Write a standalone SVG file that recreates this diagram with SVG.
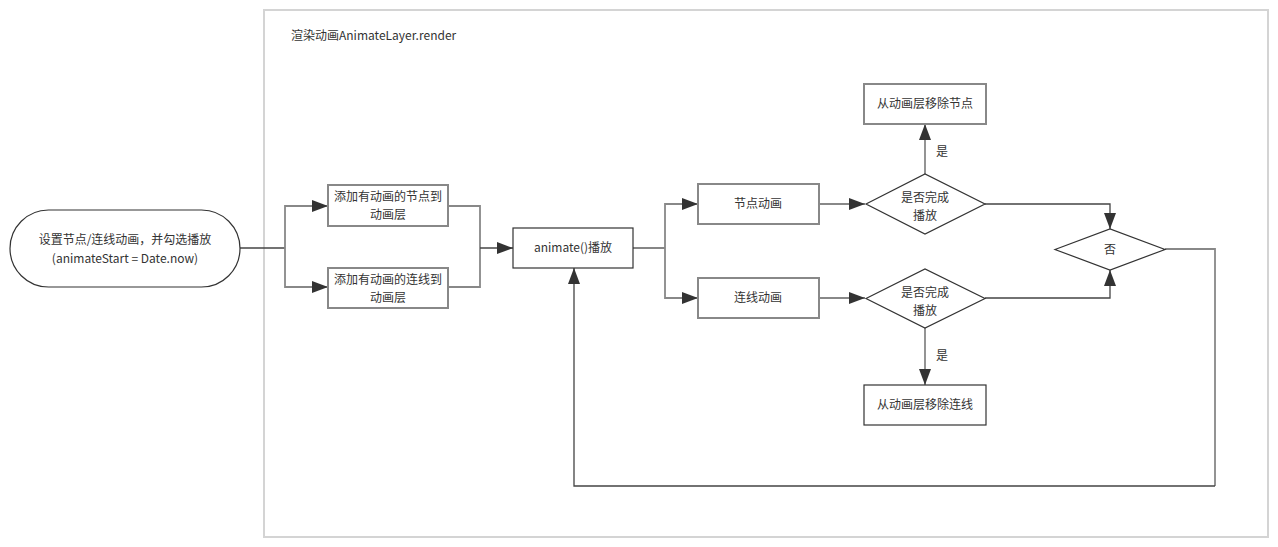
<svg xmlns="http://www.w3.org/2000/svg" width="1278" height="547" viewBox="0 0 1278 547">
<defs>
<marker id="ah" markerWidth="16" markerHeight="12" refX="16" refY="6" orient="auto" markerUnits="userSpaceOnUse">
<path d="M0,0 L16,6 L0,12 Z" fill="#333"/>
</marker>
<style>
text{font-family:"Noto Sans CJK SC","Liberation Sans",sans-serif;font-size:12px;fill:#333;text-anchor:middle}
.box{fill:#fff;stroke:#888;stroke-width:2}
.dbox{fill:#fff;stroke:#333;stroke-width:1.2}
.dia{fill:#fff;stroke:#333;stroke-width:1.2}
.c{fill:none;stroke:#444;stroke-width:1.3}
.cg{fill:none;stroke:#888;stroke-width:1.8}
</style>
</defs>
<rect width="1278" height="547" fill="#fff"/>
<g id="container">
<rect x="264" y="10" width="1004" height="527" fill="#fff" stroke="#d4d4d4" stroke-width="2"/>
<text x="291" y="40" style="text-anchor:start">渲染动画AnimateLayer.render</text>
</g>
<g id="connectors">
<path class="c" d="M240,248 H285"/>
<path class="cg" d="M285,248 V206 H328" marker-end="url(#ah)"/>
<path class="cg" d="M285,248 V287 H328" marker-end="url(#ah)"/>
<path class="cg" d="M448,206 H480 V287 H448"/>
<path class="c" d="M480,248 H513" marker-end="url(#ah)"/>
<path class="c" d="M633,248 H665"/>
<path class="cg" d="M665,248 V204 H698" marker-end="url(#ah)"/>
<path class="cg" d="M665,248 V298 H698" marker-end="url(#ah)"/>
<path class="cg" d="M819,204 H865" marker-end="url(#ah)"/>
<path class="cg" d="M819,298 H865" marker-end="url(#ah)"/>
<path class="cg" d="M925,174 V124" marker-end="url(#ah)"/>
<path class="cg" d="M925,328 V385" marker-end="url(#ah)"/>
<path class="c" d="M985,204 H1110 V229" marker-end="url(#ah)"/>
<path class="c" d="M985,298 H1110 V270" marker-end="url(#ah)"/>
<path class="cg" d="M1165,249 H1215 V486"/>
<path class="c" d="M1215,486 H574 V268" marker-end="url(#ah)"/>
<text x="942" y="156">是</text>
<text x="942" y="360">是</text>
</g>
<g id="start">
<rect x="10" y="210" width="230" height="77" rx="38.5" ry="38.5" class="dbox"/>
<text x="125" y="244">设置节点/连线动画，并勾选播放</text>
<text x="125" y="263">(animateStart = Date.now)</text>
</g>
<g id="addNode">
<rect x="328" y="185" width="120" height="41" class="box"/>
<text x="388" y="201">添加有动画的节点到</text>
<text x="388" y="219">动画层</text>
</g>
<g id="addLink">
<rect x="328" y="268" width="120" height="40" class="box"/>
<text x="388" y="284">添加有动画的连线到</text>
<text x="388" y="302">动画层</text>
</g>
<g id="animate">
<rect x="513" y="228" width="120" height="40" class="dbox"/>
<text x="573" y="252">animate()播放</text>
</g>
<g id="nodeAnim">
<rect x="698" y="184" width="121" height="40" class="box"/>
<text x="758" y="208">节点动画</text>
</g>
<g id="linkAnim">
<rect x="698" y="278" width="121" height="40" class="box"/>
<text x="758" y="302">连线动画</text>
</g>
<g id="check1">
<path d="M866,204 L925,174 L985,204 L925,234 Z" class="dia"/>
<text x="925" y="202">是否完成</text>
<text x="925" y="220">播放</text>
</g>
<g id="check2">
<path d="M866,298.5 L925,269 L985,298.5 L925,328 Z" class="dia"/>
<text x="925" y="297">是否完成</text>
<text x="925" y="315">播放</text>
</g>
<g id="removeNode">
<rect x="864" y="84" width="122" height="40" class="box"/>
<text x="925" y="108">从动画层移除节点</text>
</g>
<g id="removeLink">
<rect x="864" y="385" width="122" height="40" class="dbox"/>
<text x="925" y="409">从动画层移除连线</text>
</g>
<g id="no">
<path d="M1055,249.5 L1110,229 L1165,249.5 L1110,270 Z" class="dia"/>
<text x="1110" y="254">否</text>
</g>
</svg>
